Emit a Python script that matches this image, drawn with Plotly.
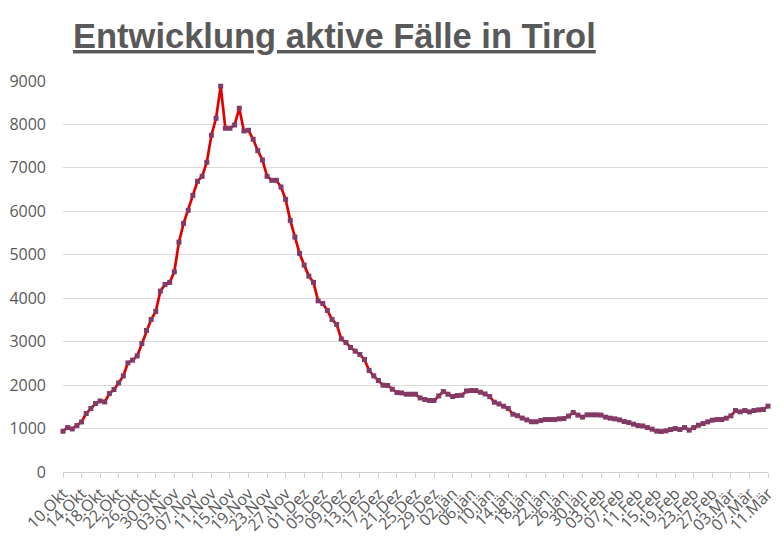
import pandas as pd
import plotly.graph_objects as go

# aktive Faelle Tirol, taeglich 10.10.2020 - 11.03.2021
start_date = "2020-10-10"
end_date = "2021-03-11"

aktive_faelle = [
    938, 1023, 991, 1069, 1152, 1346, 1461, 1576, 1636, 1613,
    1806, 1898, 2051, 2212, 2511, 2574, 2673, 2958, 3258, 3511,
    3696, 4163, 4318, 4364, 4608, 5292, 5723, 6023, 6368, 6691,
    6806, 7129, 7751, 8142, 8880, 7912, 7912, 7988, 8373, 7850,
    7866, 7659, 7396, 7182, 6806, 6714, 6714, 6559, 6276, 5792,
    5407, 5032, 4762, 4509, 4364, 3940, 3880, 3719, 3511, 3396,
    3064, 2981, 2866, 2781, 2705, 2590, 2336, 2212, 2106, 1998,
    1991, 1905, 1829, 1820, 1790, 1790, 1790, 1705, 1668, 1645,
    1645, 1751, 1852, 1790, 1737, 1760, 1767, 1866, 1875, 1875,
    1836, 1797, 1737, 1606, 1567, 1514, 1461, 1329, 1296, 1241,
    1199, 1157, 1157, 1187, 1207, 1207, 1207, 1223, 1230, 1286,
    1369, 1309, 1263, 1316, 1316, 1316, 1309, 1263, 1239, 1223,
    1200, 1161, 1138, 1101, 1069, 1060, 1023, 986, 940, 931,
    947, 977, 1000, 977, 1023, 963, 1023, 1078, 1115, 1154,
    1193, 1207, 1207, 1239, 1293, 1415, 1385, 1415, 1385, 1415,
    1431, 1438, 1516,
]

tick_labels = [
    "10.Okt", "14.Okt", "18.Okt", "22.Okt", "26.Okt", "30.Okt",
    "03.Nov", "07.Nov", "11.Nov", "15.Nov", "19.Nov", "23.Nov", "27.Nov",
    "01.Dez", "05.Dez", "09.Dez", "13.Dez", "17.Dez", "21.Dez", "25.Dez", "29.Dez",
    "02.Jän", "06.Jän", "10.Jän", "14.Jän", "18.Jän", "22.Jän", "26.Jän", "30.Jän",
    "03.Feb", "07.Feb", "11.Feb", "15.Feb", "19.Feb", "23.Feb", "27.Feb",
    "03.Mär", "07.Mär", "11.Mär",
]

y_ticks = [0, 1000, 2000, 3000, 4000, 5000, 6000, 7000, 8000, 9000]

dates = pd.date_range(start_date, end_date, freq="D")
tick_dates = dates[::4]

grey = "#595959"

# page body has an 8px margin, so the figure is 8px smaller than the window
W, H = 775, 530

fig = go.Figure()
fig.add_trace(go.Scatter(
    x=dates,
    y=aktive_faelle,
    mode="lines+markers",
    line=dict(color="#e00000", width=2.7),
    marker=dict(symbol="square", size=5, color="#833a66",
                line=dict(width=0)),
    cliponaxis=False,
    showlegend=False,
))

fig.update_layout(
    width=W,
    height=H,
    margin=dict(l=55, r=15, t=73, b=66),
    paper_bgcolor="white",
    plot_bgcolor="white",
    title=dict(
        text="<b><u>Entwicklung aktive Fälle in Tirol</u></b>",
        font=dict(family="Liberation Sans, Arial", size=34.5, color=grey),
        xref="container", x=65 / W, xanchor="left",
        yref="container", y=1 - 40 / H, yanchor="bottom",
    ),
)

fig.update_xaxes(
    range=[dates[0], dates[-1]],
    tickvals=tick_dates,
    ticktext=tick_labels,
    tickangle=-45,
    tickfont=dict(family="Open Sans", size=16, color=grey),
    showgrid=False,
    showline=True,
    linecolor="#d0d0d0",
    linewidth=1,
    ticks="outside",
    ticklen=5,
    tickcolor="#d0d0d0",
    zeroline=False,
    automargin=False,
)

fig.update_yaxes(
    range=[0, 9000],
    tickvals=y_ticks,
    tickfont=dict(family="Open Sans", size=16, color=grey),
    showgrid=True,
    gridcolor="#d9d9d9",
    gridwidth=1,
    zeroline=False,
    showline=False,
    ticks="",
    ticklabelstandoff=16,
    automargin=False,
)

fig.write_html("out.html")
